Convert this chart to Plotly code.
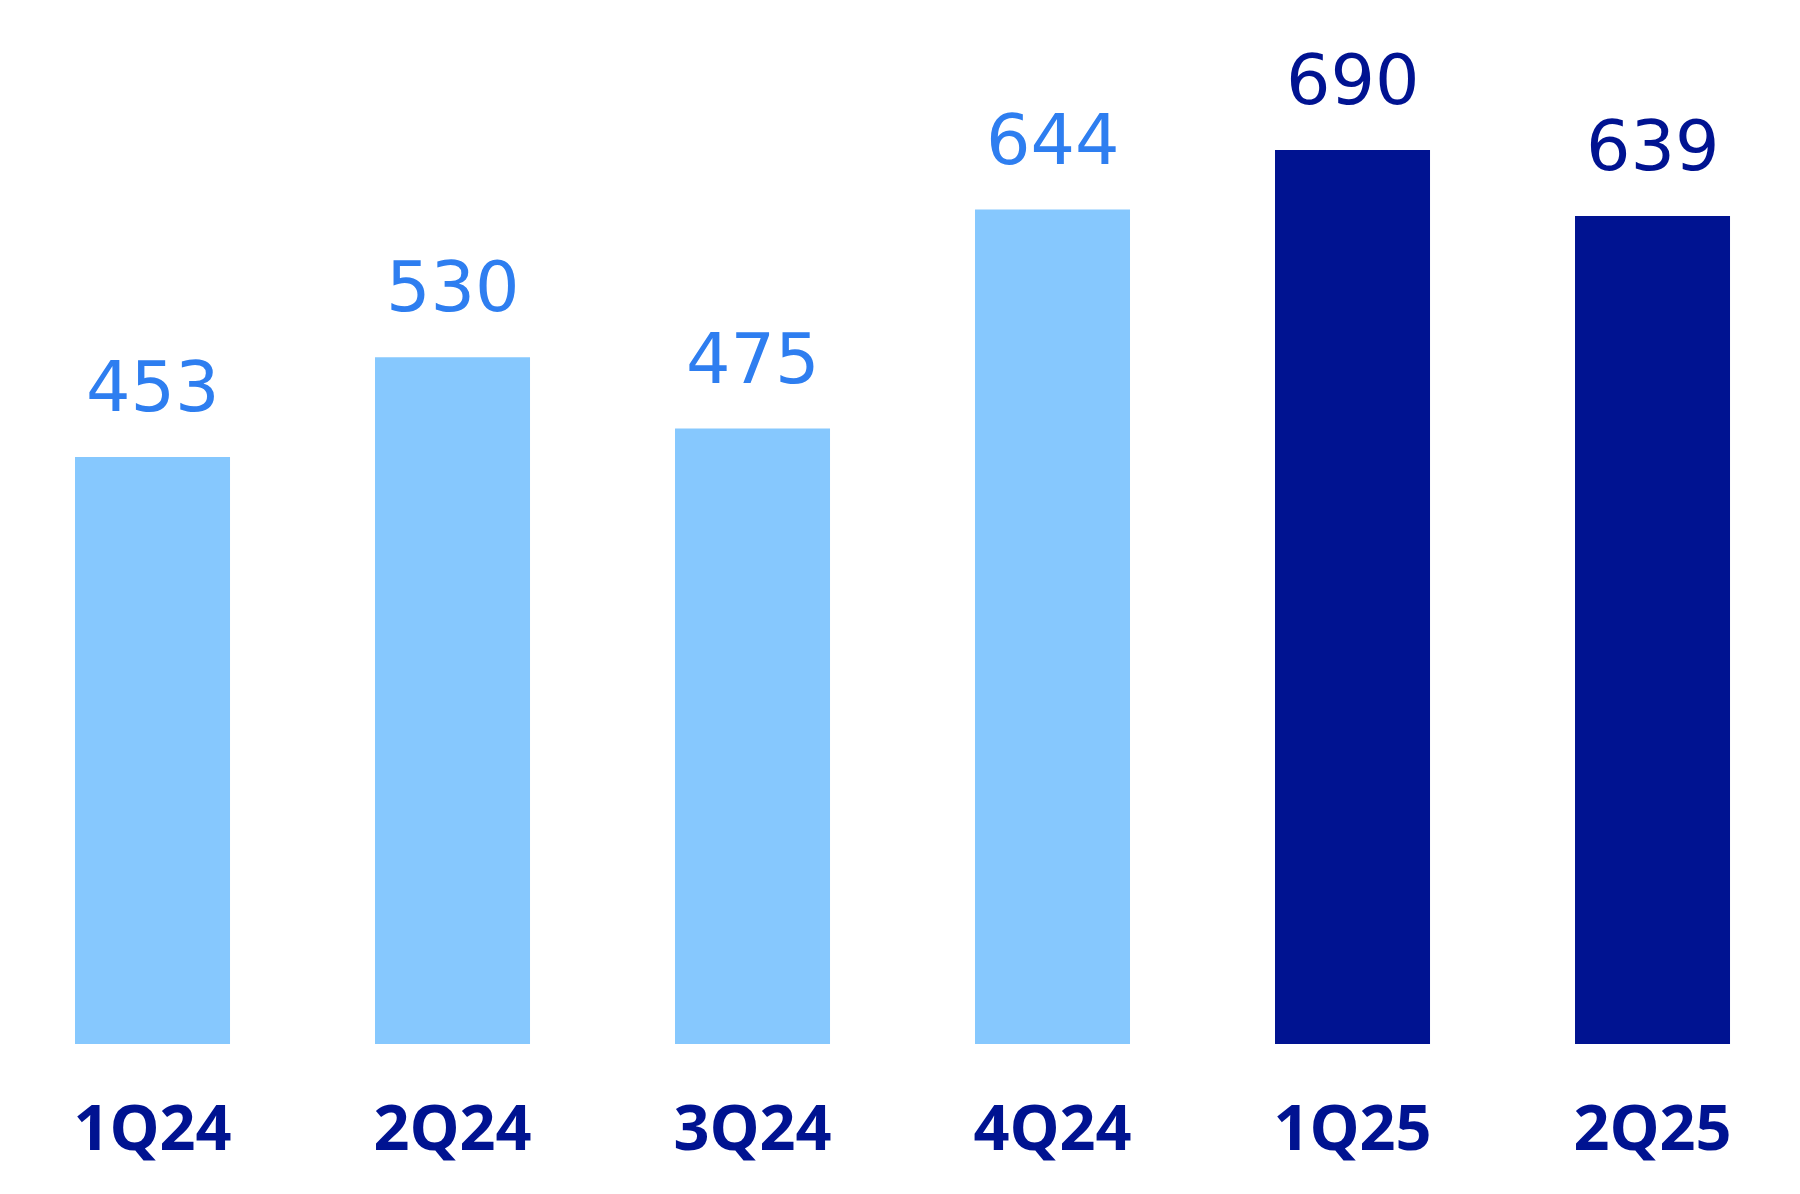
import plotly.graph_objects as go

quarters = ['1Q24', '2Q24', '3Q24', '4Q24', '1Q25', '2Q25']
values = [453, 530, 475, 644, 690, 639]
bar_colors = ['#86C8FE', '#86C8FE', '#86C8FE', '#86C8FE', '#001391', '#001391']
label_colors = ['#2E7EF0', '#2E7EF0', '#2E7EF0', '#2E7EF0', '#001391', '#001391']

fig = go.Figure()
fig.add_trace(go.Bar(x=quarters, y=values, marker=dict(color=bar_colors, line=dict(width=0)),
                     hoverinfo='skip'))

# valori iznad stubova
for q, v, c in zip(quarters, values, label_colors):
    fig.add_annotation(x=q, y=v, text=str(v), showarrow=False, yanchor='bottom',
                       yshift=27, font=dict(family='DejaVu Sans', size=70, color=c))

# stranica ima 8px margine oko grafika, pa se opseg malo pomera
fig.update_layout(
    width=1800, height=1194,
    margin=dict(l=0, r=0, t=0, b=158),
    paper_bgcolor='white', plot_bgcolor='white',
    bargap=0.4833, showlegend=False,
)
fig.update_xaxes(range=[-0.4817, 5.5183], showgrid=False, zeroline=False, showline=False,
                 ticks='', ticklabelstandoff=42,
                 tickfont=dict(family='Open Sans', size=63, color='#001391', weight='bold'))
fig.update_yaxes(range=[0, 799.6], visible=False)

fig.write_html("out.html")
